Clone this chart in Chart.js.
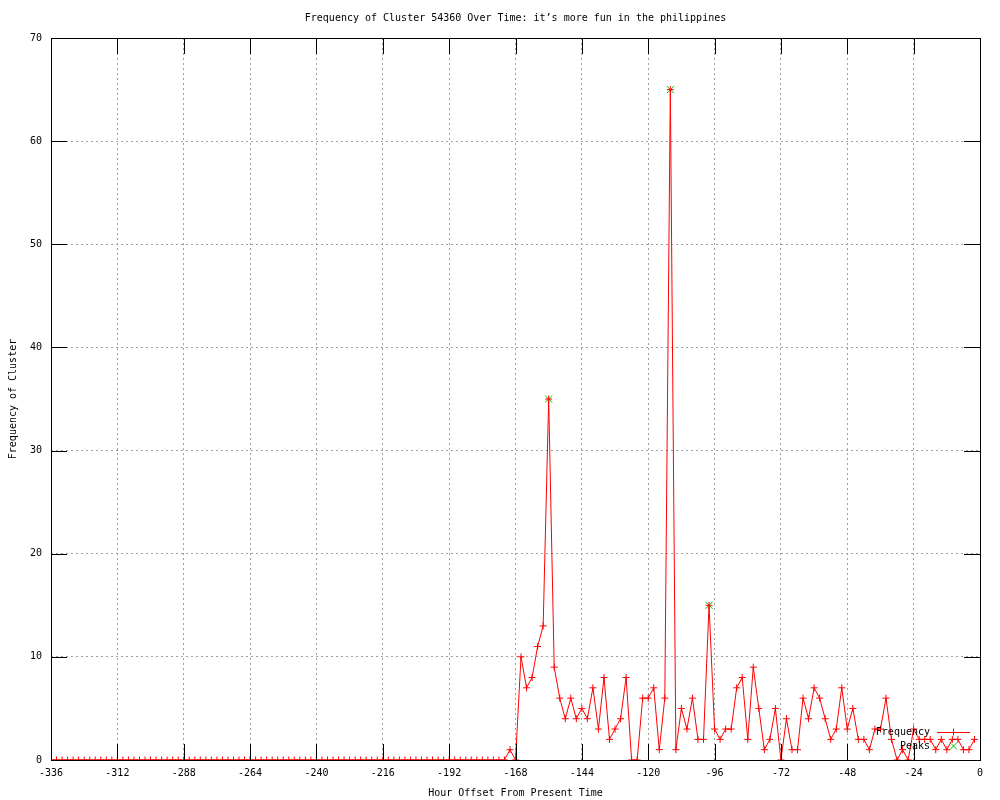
<!DOCTYPE html>
<html>
<head>
<meta charset="utf-8">
<title>Frequency of Cluster 54360</title>
<script src="https://cdn.jsdelivr.net/npm/chart.js@4.4.1/dist/chart.umd.min.js"></script>
<style>
  html, body { margin: 0; padding: 0; background: #fff; }
  #wrap { width: 1000px; height: 800px; }
</style>
</head>
<body>
<div id="wrap"><canvas id="clusterChart" width="1000" height="800"></canvas></div>
<script>
// hours run from -336 in steps of 2 (one value per step)
const startHour = -336;
const stepHours = 2;

// frequency per 2-hour step, -336 .. -2
const frequency = [
    0, 0, 0, 0, 0, 0, 0, 0, 0, 0, 0, 0, 0, 0, 0, 0, 0, 0, 0, 0,
    0, 0, 0, 0, 0, 0, 0, 0, 0, 0, 0, 0, 0, 0, 0, 0, 0, 0, 0, 0,
    0, 0, 0, 0, 0, 0, 0, 0, 0, 0, 0, 0, 0, 0, 0, 0, 0, 0, 0, 0,
    0, 0, 0, 0, 0, 0, 0, 0, 0, 0, 0, 0, 0, 0, 0, 0, 0, 0, 0, 0,
    0, 0, 0,                       // .. -172
    1, 0, 10, 7, 8, 11, 13, 35, 9, 6,      // -170 .. -152
    4, 6, 4, 5, 4, 7, 3, 8, 2, 3,          // -150 .. -132
    4, 8, 0, 0, 6, 6, 7, 1, 6, 65,         // -130 .. -112
    1, 5, 3, 6, 2, 2, 15, 3, 2, 3,         // -110 .. -92
    3, 7, 8, 2, 9, 5, 1, 2, 5, 0,          // -90 .. -72
    4, 1, 1, 6, 4, 7, 6, 4, 2, 3,          // -70 .. -52
    7, 3, 5, 2, 2, 1, 3, 3, 6, 2,          // -50 .. -32
    0, 1, 0, 3, 2, 2, 2, 1, 2, 1,          // -30 .. -12
    2, 2, 1, 1, 2                          // -10 .. -2
];

const peakHours = [-156, -112, -98];
const peakValues = [35, 65, 15];

const xTicks = [-336, -312, -288, -264, -240, -216, -192, -168, -144, -120, -96, -72, -48, -24, 0];
const yTicks = [0, 10, 20, 30, 40, 50, 60, 70];

const FONT = { family: "'DejaVu Sans Mono', monospace", size: 10 };
const RED = '#ff0000';
const GREEN = '#00c000';

const freqPoints = frequency.map((v, i) => ({ x: startHour + i * stepHours, y: v }));
const peakPoints = peakHours.map((h, i) => ({ x: h, y: peakValues[i] }));

// gnuplot-like border with inward ticks on all four sides
const framePlugin = {
    id: 'frame',
    afterDatasetsDraw(chart) {
        const { ctx, chartArea: a, scales } = chart;
        const tl = 16;
        ctx.save();
        ctx.strokeStyle = '#000';
        ctx.lineWidth = 1;
        ctx.beginPath();
        xTicks.forEach(v => {
            const px = Math.round(scales.x.getPixelForValue(v)) + 0.5;
            ctx.moveTo(px, a.bottom); ctx.lineTo(px, a.bottom - tl);
            ctx.moveTo(px, a.top); ctx.lineTo(px, a.top + tl);
        });
        yTicks.forEach(v => {
            const py = Math.round(scales.y.getPixelForValue(v)) + 0.5;
            ctx.moveTo(a.left, py); ctx.lineTo(a.left + tl, py);
            ctx.moveTo(a.right, py); ctx.lineTo(a.right - tl, py);
        });
        ctx.stroke();
        ctx.strokeRect(Math.round(a.left) + 0.5, Math.round(a.top) + 0.5,
            Math.round(a.right - a.left), Math.round(a.bottom - a.top));
        ctx.restore();
    }
};

// key in the lower right corner: text right aligned, sample to the right
const keyPlugin = {
    id: 'key',
    afterDraw(chart) {
        const { ctx, chartArea: a } = chart;
        const sets = chart.data.datasets;
        const textRight = a.right - 50;
        const sampleL = a.right - 43, sampleR = a.right - 10;
        const mid = (sampleL + sampleR) / 2;
        ctx.save();
        ctx.font = `${FONT.size}px ${FONT.family}`;
        ctx.textAlign = 'right';
        ctx.textBaseline = 'middle';
        ctx.fillStyle = '#000';
        sets.forEach((ds, i) => {
            const y = a.bottom - 28 + i * 14;
            ctx.fillText(ds.label, textRight, y);
            ctx.strokeStyle = ds.borderColor;
            ctx.lineWidth = 1;
            ctx.beginPath();
            if (ds.showLine !== false) {
                ctx.moveTo(sampleL, y + 0.5); ctx.lineTo(sampleR, y + 0.5);
            }
            if (ds.pointStyle === 'cross') {
                ctx.moveTo(mid, y - 3.5); ctx.lineTo(mid, y + 3.5);
                ctx.moveTo(mid - 3.5, y + 0.5); ctx.lineTo(mid + 3.5, y + 0.5);
            } else {
                ctx.moveTo(mid - 3.5, y - 3.5); ctx.lineTo(mid + 3.5, y + 3.5);
                ctx.moveTo(mid - 3.5, y + 3.5); ctx.lineTo(mid + 3.5, y - 3.5);
            }
            ctx.stroke();
        });
        ctx.restore();
    }
};

const ctx = document.getElementById('clusterChart').getContext('2d');
new Chart(ctx, {
    type: 'line',
    data: {
        datasets: [
            {
                label: 'Frequency',
                data: freqPoints,
                borderColor: RED,
                backgroundColor: RED,
                borderWidth: 1,
                pointStyle: 'cross',
                pointRadius: 3.5,
                pointBorderColor: RED,
                pointBorderWidth: 1,
                tension: 0,
                clip: 0
            },
            {
                label: 'Peaks',
                data: peakPoints,
                showLine: false,
                borderColor: GREEN,
                backgroundColor: GREEN,
                pointStyle: 'crossRot',
                pointRadius: 5,
                pointBorderColor: GREEN,
                pointBorderWidth: 1,
                clip: 0
            }
        ]
    },
    options: {
        responsive: false,
        animation: false,
        devicePixelRatio: 1,
        layout: { padding: { left: 0, right: 20, top: 0, bottom: 0 } },
        plugins: {
            legend: { display: false },
            tooltip: { enabled: false },
            title: {
                display: true,
                text: 'Frequency of Cluster 54360 Over Time: it\u2019s more fun in the philippines',
                color: '#000',
                font: { ...FONT, weight: 'normal' },
                fullSize: false,
                padding: { top: 12, bottom: 14 }
            }
        },
        scales: {
            x: {
                type: 'linear',
                min: -336,
                max: 0,
                afterBuildTicks: scale => { scale.ticks = xTicks.map(v => ({ value: v })); },
                afterFit: scale => { scale.height = 40; },
                grid: { color: '#a0a0a0', lineWidth: 1, drawTicks: false },
                border: { display: false, dash: [2, 3] },
                ticks: { color: '#000', font: FONT, padding: 7, maxRotation: 0, autoSkip: false },
                title: {
                    display: true,
                    text: 'Hour Offset From Present Time',
                    color: '#000',
                    font: FONT,
                    padding: { top: 0, bottom: 1 }
                }
            },
            y: {
                min: 0,
                max: 70,
                afterBuildTicks: scale => { scale.ticks = yTicks.map(v => ({ value: v })); },
                afterFit: scale => { scale.width = 51; },
                grid: { color: '#a0a0a0', lineWidth: 1, drawTicks: false },
                border: { display: false, dash: [2, 3] },
                ticks: { color: '#000', font: FONT, padding: 9 },
                title: {
                    display: true,
                    text: 'Frequency of Cluster',
                    color: '#000',
                    font: FONT,
                    padding: { top: 7, bottom: 0 }
                }
            }
        }
    },
    plugins: [framePlugin, keyPlugin]
});
</script>
</body>
</html>
